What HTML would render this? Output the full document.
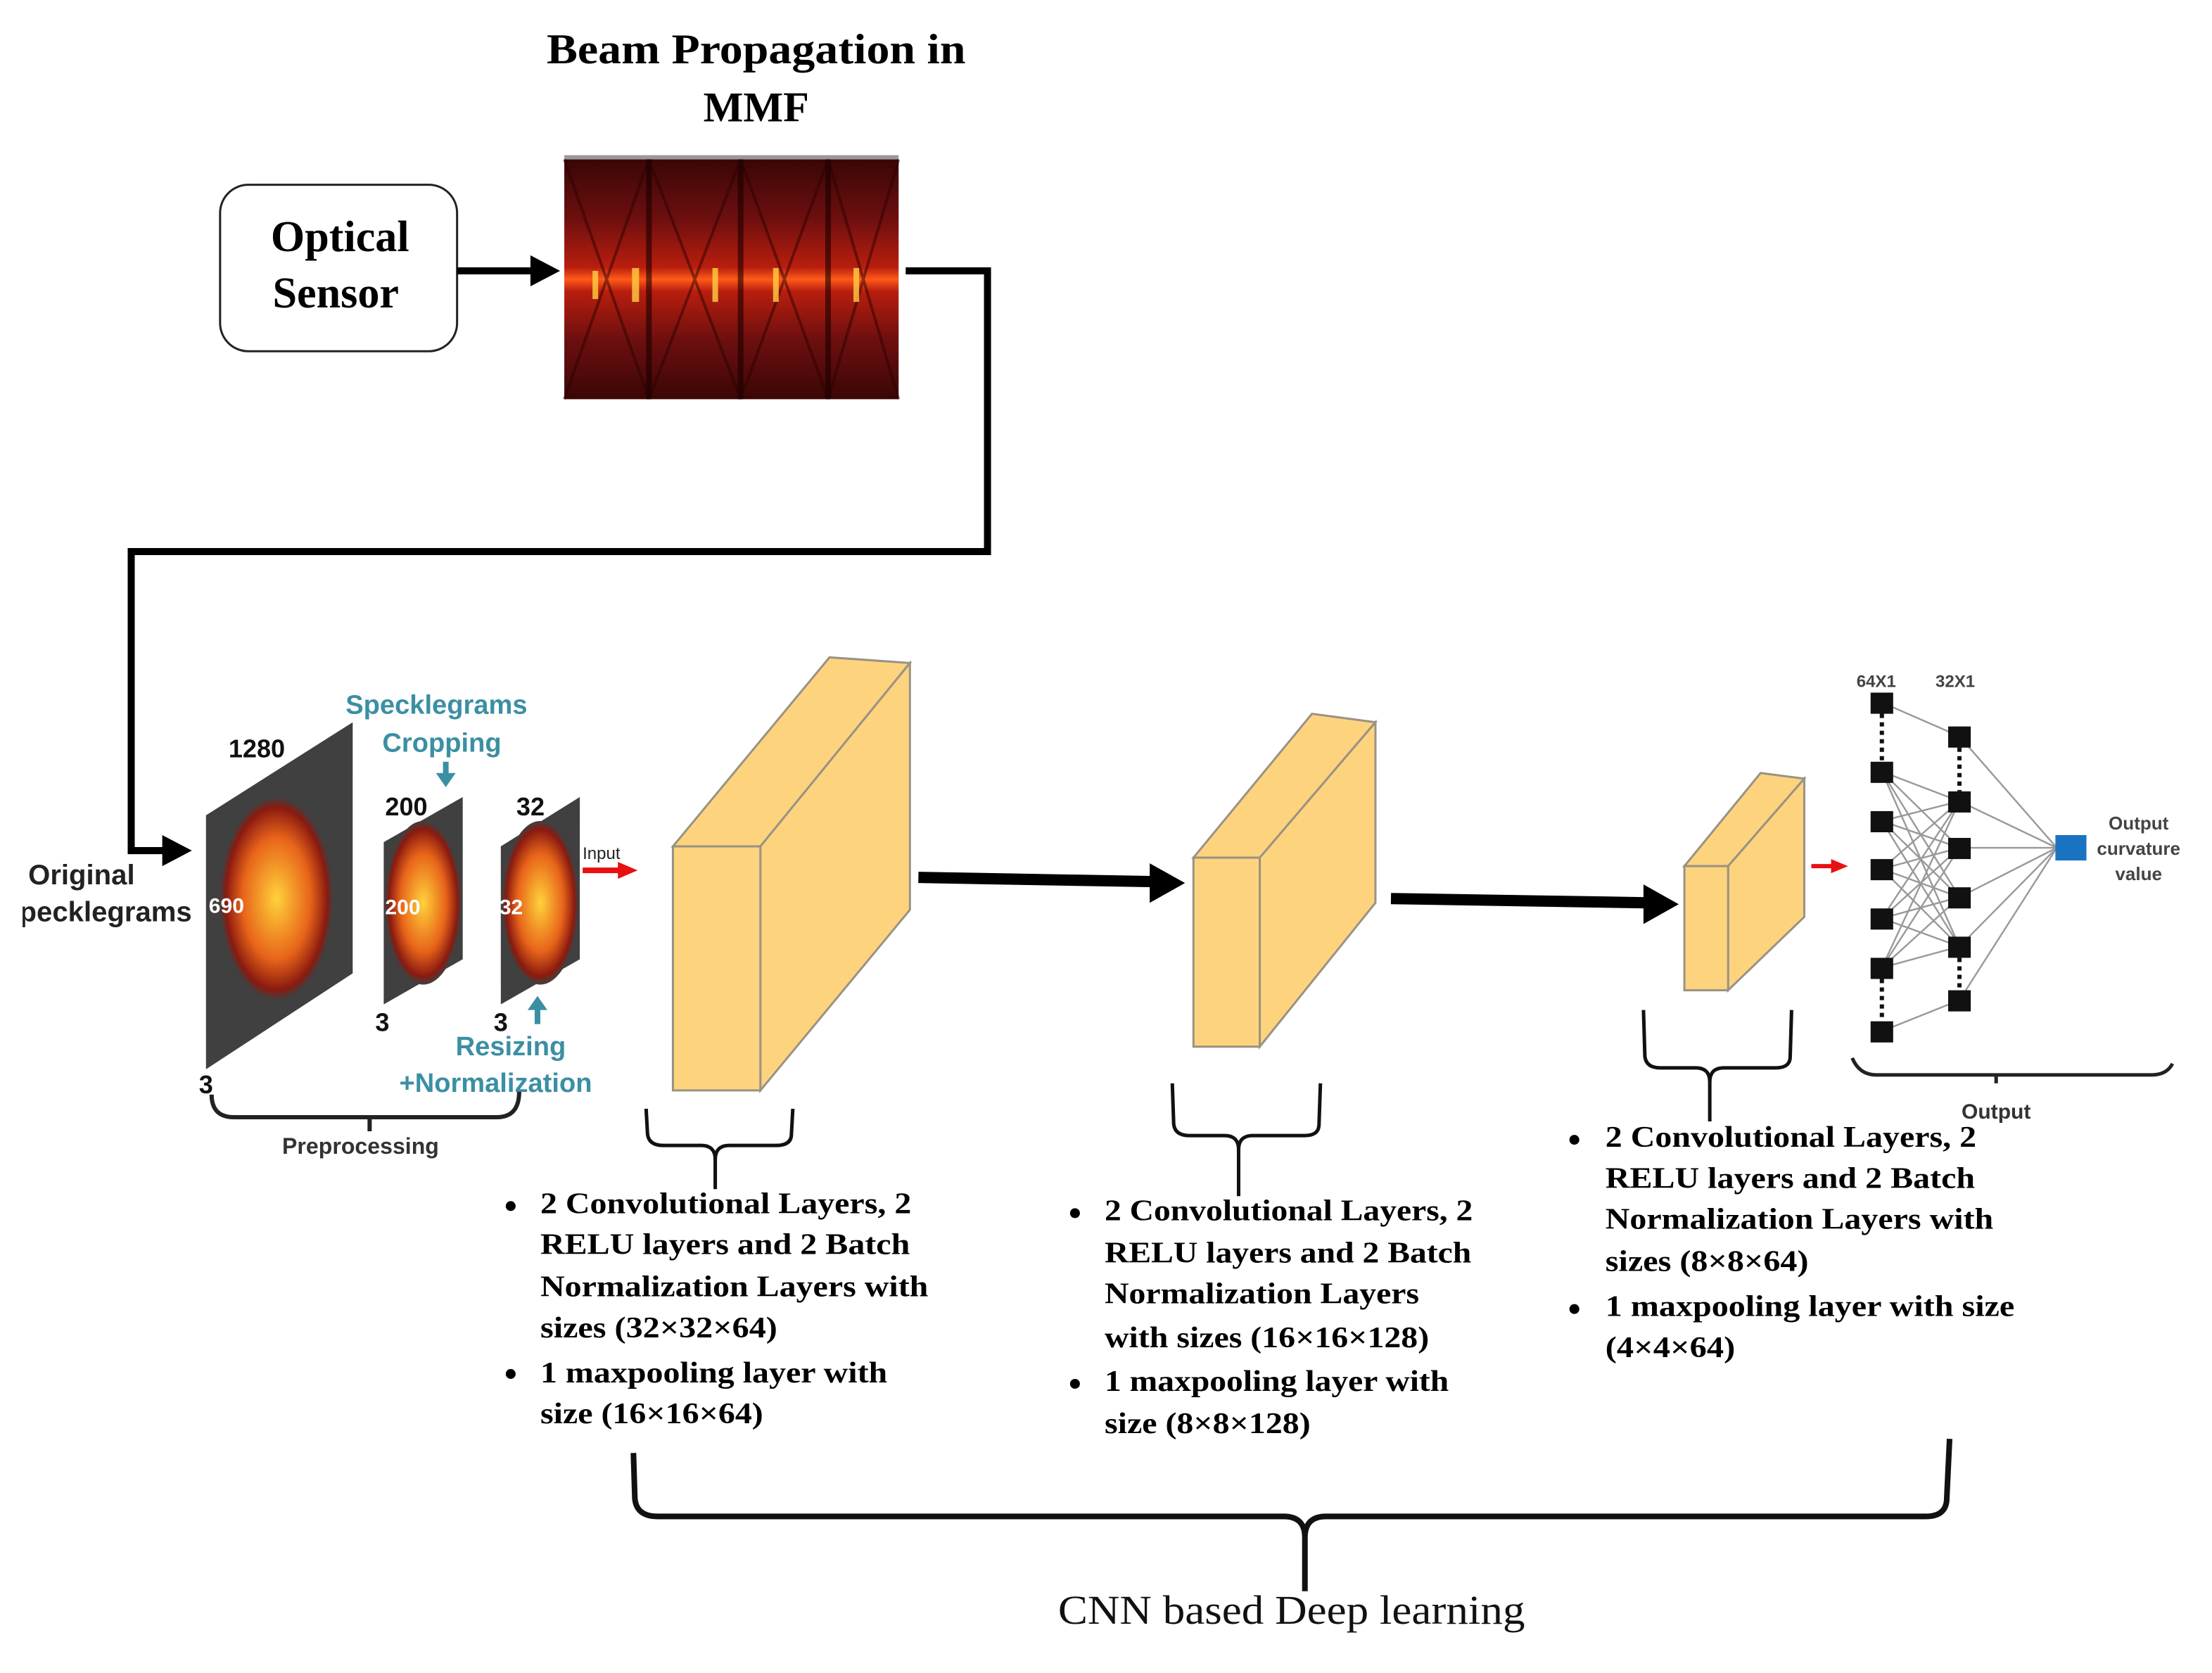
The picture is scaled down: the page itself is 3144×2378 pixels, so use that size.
<!DOCTYPE html>
<html><head><meta charset="utf-8"><style>html,body{margin:0;padding:0;background:#fff}svg{display:block}</style></head>
<body>
<svg width="3144" height="2378" viewBox="0 0 1568 1186" xmlns="http://www.w3.org/2000/svg">
<defs>
<linearGradient id="mmf" x1="0" y1="0" x2="0" y2="1">
<stop offset="0" stop-color="#3a0606"/><stop offset="0.25" stop-color="#6e0f0f"/>
<stop offset="0.45" stop-color="#b81e0e"/><stop offset="0.5" stop-color="#ff5a1a"/>
<stop offset="0.55" stop-color="#b81e0e"/><stop offset="0.75" stop-color="#6e0f0f"/>
<stop offset="1" stop-color="#3a0606"/></linearGradient>
<radialGradient id="spk" cx="0.5" cy="0.5" r="0.5">
<stop offset="0" stop-color="#ffd23a"/><stop offset="0.6" stop-color="#e8641a"/><stop offset="0.9" stop-color="#8a1a10"/><stop offset="1" stop-color="#404040"/></radialGradient>
<clipPath id="lc"><rect x="16" y="600" width="130" height="70"/></clipPath>
</defs>
<rect width="1568" height="1186" fill="#fff"/>

<g font-family="Liberation Serif, serif" font-weight="bold" font-size="30" text-anchor="middle" fill="#000">
<text x="536" y="45" textLength="297" lengthAdjust="spacingAndGlyphs">Beam Propagation in</text>
<text x="536" y="86">MMF</text>
</g>

<rect x="156" y="131" width="168" height="118" rx="20" fill="#fff" stroke="#222" stroke-width="1.5"/>
<g font-family="Liberation Serif, serif" font-weight="bold" font-size="31" text-anchor="middle">
<text x="241" y="178">Optical</text>
<text x="238" y="218">Sensor</text>
</g>
<line x1="324" y1="192" x2="380" y2="192" stroke="#000" stroke-width="5"/>
<polygon points="376,181 397,192 376,203" fill="#000"/>

<rect x="400" y="110" width="237" height="3" fill="#999"/>
<rect x="400" y="113" width="237" height="170" fill="url(#mmf)"/>
<g stroke="#1a0000" stroke-width="4" opacity="0.6">
<line x1="460" y1="113" x2="460" y2="283"/><line x1="525" y1="113" x2="525" y2="283"/><line x1="587" y1="113" x2="587" y2="283"/></g>
<g stroke="#2a0202" stroke-width="2" opacity="0.5" fill="none">
<path d="M400,113 L460,283 M460,113 L400,283 M460,113 L525,283 M525,113 L460,283 M525,113 L587,283 M587,113 L525,283 M587,113 L637,283 M637,113 L587,283"/></g>
<g fill="#ffd040" opacity="0.8">
<rect x="448" y="190" width="5" height="24"/><rect x="505" y="190" width="4" height="24"/><rect x="548" y="190" width="4" height="24"/><rect x="605" y="190" width="4" height="24"/><rect x="420" y="192" width="4" height="20"/></g>

<polyline points="642,192 700,192 700,391 93,391 93,603 118,603" fill="none" stroke="#000" stroke-width="5"/>
<polygon points="115,592 136,603 115,614" fill="#000"/>

<g font-family="Liberation Sans, sans-serif" font-weight="bold" font-size="20" fill="#222">
<text x="20" y="627">Original</text>
<text x="136" y="653" text-anchor="end" clip-path="url(#lc)">Specklegrams</text>
</g>

<polygon points="146,578 250,512 250,690 146,758" fill="#404040"/>
<ellipse cx="196" cy="637" rx="40" ry="72" fill="url(#spk)"/>
<polygon points="272,597 328,565 328,680 272,712" fill="#404040"/>
<ellipse cx="300" cy="640" rx="27" ry="58" fill="url(#spk)"/>
<polygon points="355,600 411,565 411,680 355,712" fill="#404040"/>
<ellipse cx="383" cy="640" rx="27" ry="58" fill="url(#spk)"/>
<g font-family="Liberation Sans, sans-serif" font-weight="bold" font-size="18" fill="#111">
<text x="162" y="537">1280</text><text x="273" y="578">200</text><text x="366" y="578">32</text>
<text x="141" y="775">3</text><text x="266" y="731">3</text><text x="350" y="731">3</text>
</g>
<g font-family="Liberation Sans, sans-serif" font-weight="bold" font-size="15" fill="#fff">
<text x="148" y="647">690</text><text x="273" y="648">200</text><text x="354" y="648">32</text>
</g>
<g font-family="Liberation Sans, sans-serif" font-weight="bold" font-size="19" fill="#3b8fa3">
<text x="245" y="506">Specklegrams</text><text x="271" y="533">Cropping</text>
<text x="323" y="748">Resizing</text><text x="283" y="774">+Normalization</text>
</g>
<line x1="316" y1="540" x2="316" y2="550" stroke="#3b8fa3" stroke-width="4"/>
<polygon points="309,548 323,548 316,558" fill="#3b8fa3"/>
<line x1="381" y1="714" x2="381" y2="726" stroke="#3b8fa3" stroke-width="4"/>
<polygon points="374,716 388,716 381,706" fill="#3b8fa3"/>
<text x="413" y="609" font-family="Liberation Sans, sans-serif" font-size="12" fill="#222">Input</text>
<line x1="413" y1="617" x2="440" y2="617" stroke="#e81010" stroke-width="4"/>
<polygon points="438,611 452,617 438,623" fill="#e81010"/>
<path d="M150,776 Q150,792 166,792 L352,792 Q368,792 368,774 M262,792 L262,802" fill="none" stroke="#222" stroke-width="3"/>
<text x="200" y="818" font-family="Liberation Sans, sans-serif" font-weight="bold" font-size="16" fill="#333">Preprocessing</text>

<g stroke="#9a9284" stroke-width="1.5" fill="#fdd47d">
<polygon points="477,600 588,466 645,470 539,600"/>
<polygon points="539,600 645,470 645,645 539,773"/>
<rect x="477" y="600" width="62" height="173"/>
<polygon points="846,608 930,506 975,512 893,608"/>
<polygon points="893,608 975,512 975,640 893,742"/>
<rect x="846" y="608" width="47" height="134"/>
<polygon points="1194,614 1248,548 1279,552 1225,614"/>
<polygon points="1225,614 1279,552 1279,650 1225,702"/>
<rect x="1194" y="614" width="31" height="88"/>
</g>
<line x1="651" y1="622" x2="818" y2="625" stroke="#000" stroke-width="8"/>
<polygon points="815,612 840,626 815,640" fill="#000"/>
<line x1="986" y1="637" x2="1168" y2="640" stroke="#000" stroke-width="8"/>
<polygon points="1165,627 1190,641 1165,655" fill="#000"/>
<line x1="1284" y1="614" x2="1300" y2="614" stroke="#e81010" stroke-width="3"/>
<polygon points="1298,609 1310,614 1298,619" fill="#e81010"/>

<g fill="none" stroke="#111" stroke-width="2.5">
<path d="M458,786 L459,804 Q460,812 470,812 L497,812 Q507,812 507,822 L507,843 M507,822 Q507,812 517,812 L550,812 Q561,812 561,804 L562,786"/>
<path d="M831,768 L832,797 Q833,805 843,805 L868,805 Q878,805 878,815 L878,848 M878,815 Q878,805 888,805 L925,805 Q935,805 935,797 L936,768"/>
<path d="M1165,716 L1166,749 Q1167,757 1177,757 L1202,757 Q1212,757 1212,767 L1212,795 M1212,767 Q1212,757 1222,757 L1259,757 Q1269,757 1269,749 L1270,716"/>
<path d="M449,1030 L450,1062 Q451,1075 466,1075 L910,1075 Q925,1075 925,1090 L925,1128 M925,1090 Q925,1075 940,1075 L1365,1075 Q1380,1075 1380,1062 L1382,1020" stroke-width="4"/>
</g>

<g font-family="Liberation Serif, serif" font-weight="bold" font-size="21" fill="#000">
<circle cx="362" cy="855" r="3.5"/><circle cx="362" cy="974" r="3.5"/>
<text x="383" y="860" textLength="263" lengthAdjust="spacingAndGlyphs">2 Convolutional Layers, 2</text>
<text x="383" y="889" textLength="262" lengthAdjust="spacingAndGlyphs">RELU layers and 2 Batch</text>
<text x="383" y="919" textLength="275" lengthAdjust="spacingAndGlyphs">Normalization Layers with</text>
<text x="383" y="948" textLength="168" lengthAdjust="spacingAndGlyphs">sizes (32×32×64)</text>
<text x="383" y="980" textLength="246" lengthAdjust="spacingAndGlyphs">1 maxpooling layer with</text>
<text x="383" y="1009" textLength="158" lengthAdjust="spacingAndGlyphs">size (16×16×64)</text>
<circle cx="762" cy="860" r="3.5"/><circle cx="762" cy="981" r="3.5"/>
<text x="783" y="865" textLength="261" lengthAdjust="spacingAndGlyphs">2 Convolutional Layers, 2</text>
<text x="783" y="895" textLength="260" lengthAdjust="spacingAndGlyphs">RELU layers and 2 Batch</text>
<text x="783" y="924" textLength="223" lengthAdjust="spacingAndGlyphs">Normalization Layers</text>
<text x="783" y="955" textLength="230" lengthAdjust="spacingAndGlyphs">with sizes (16×16×128)</text>
<text x="783" y="986" textLength="244" lengthAdjust="spacingAndGlyphs">1 maxpooling layer with</text>
<text x="783" y="1016" textLength="146" lengthAdjust="spacingAndGlyphs">size (8×8×128)</text>
<circle cx="1116" cy="808" r="3.5"/><circle cx="1116" cy="928" r="3.5"/>
<text x="1138" y="813" textLength="263" lengthAdjust="spacingAndGlyphs">2 Convolutional Layers, 2</text>
<text x="1138" y="842" textLength="262" lengthAdjust="spacingAndGlyphs">RELU layers and 2 Batch</text>
<text x="1138" y="871" textLength="275" lengthAdjust="spacingAndGlyphs">Normalization Layers with</text>
<text x="1138" y="901" textLength="144" lengthAdjust="spacingAndGlyphs">sizes (8×8×64)</text>
<text x="1138" y="933" textLength="290" lengthAdjust="spacingAndGlyphs">1 maxpooling layer with size</text>
<text x="1138" y="962" textLength="92" lengthAdjust="spacingAndGlyphs">(4×4×64)</text>
</g>
<text x="750" y="1151" textLength="331" lengthAdjust="spacingAndGlyphs" font-family="Liberation Serif, serif" font-size="29" fill="#111">CNN based Deep learning</text>

<g stroke="#999" stroke-width="1.2">
<line x1="1334" y1="498" x2="1389" y2="522"/><line x1="1334" y1="731" x2="1389" y2="709"/>
<line x1="1334" y1="547" x2="1389" y2="568"/><line x1="1334" y1="547" x2="1389" y2="601"/><line x1="1334" y1="547" x2="1389" y2="636"/><line x1="1334" y1="547" x2="1389" y2="671"/>
<line x1="1334" y1="582" x2="1389" y2="568"/><line x1="1334" y1="582" x2="1389" y2="601"/><line x1="1334" y1="582" x2="1389" y2="636"/><line x1="1334" y1="582" x2="1389" y2="671"/>
<line x1="1334" y1="616" x2="1389" y2="568"/><line x1="1334" y1="616" x2="1389" y2="601"/><line x1="1334" y1="616" x2="1389" y2="636"/><line x1="1334" y1="616" x2="1389" y2="671"/>
<line x1="1334" y1="651" x2="1389" y2="568"/><line x1="1334" y1="651" x2="1389" y2="601"/><line x1="1334" y1="651" x2="1389" y2="636"/><line x1="1334" y1="651" x2="1389" y2="671"/>
<line x1="1334" y1="686" x2="1389" y2="568"/><line x1="1334" y1="686" x2="1389" y2="601"/><line x1="1334" y1="686" x2="1389" y2="636"/><line x1="1334" y1="686" x2="1389" y2="671"/>
<line x1="1389" y1="522" x2="1458" y2="601"/><line x1="1389" y1="568" x2="1458" y2="601"/><line x1="1389" y1="601" x2="1458" y2="601"/><line x1="1389" y1="636" x2="1458" y2="601"/><line x1="1389" y1="671" x2="1458" y2="601"/><line x1="1389" y1="709" x2="1458" y2="601"/>
</g>
<g stroke="#111" stroke-width="3" stroke-dasharray="3,3">
<line x1="1334" y1="506" x2="1334" y2="540"/><line x1="1334" y1="694" x2="1334" y2="724"/>
<line x1="1389" y1="530" x2="1389" y2="561"/><line x1="1389" y1="679" x2="1389" y2="702"/>
</g>
<g fill="#111">
<rect x="1326" y="491" width="16" height="15"/><rect x="1326" y="540" width="16" height="15"/><rect x="1326" y="575" width="16" height="15"/><rect x="1326" y="609" width="16" height="15"/><rect x="1326" y="644" width="16" height="15"/><rect x="1326" y="679" width="16" height="15"/><rect x="1326" y="724" width="16" height="15"/>
<rect x="1381" y="515" width="16" height="15"/><rect x="1381" y="561" width="16" height="15"/><rect x="1381" y="594" width="16" height="15"/><rect x="1381" y="629" width="16" height="15"/><rect x="1381" y="664" width="16" height="15"/><rect x="1381" y="702" width="16" height="15"/>
</g>
<rect x="1457" y="592" width="22" height="18" fill="#1a73c0"/>
<g font-family="Liberation Sans, sans-serif" font-weight="bold" font-size="12" fill="#444">
<text x="1316" y="487">64X1</text><text x="1372" y="487">32X1</text>
<g text-anchor="middle" font-size="13"><text x="1516" y="588">Output</text><text x="1516" y="606">curvature</text><text x="1516" y="624">value</text></g>
</g>
<path d="M1313,750 Q1318,762 1330,762 L1525,762 Q1536,762 1540,754 M1415,762 L1415,768" fill="none" stroke="#222" stroke-width="2.5"/>
<text x="1415" y="793" text-anchor="middle" font-family="Liberation Sans, sans-serif" font-weight="bold" font-size="15" fill="#333">Output</text>
</svg>
</body></html>
